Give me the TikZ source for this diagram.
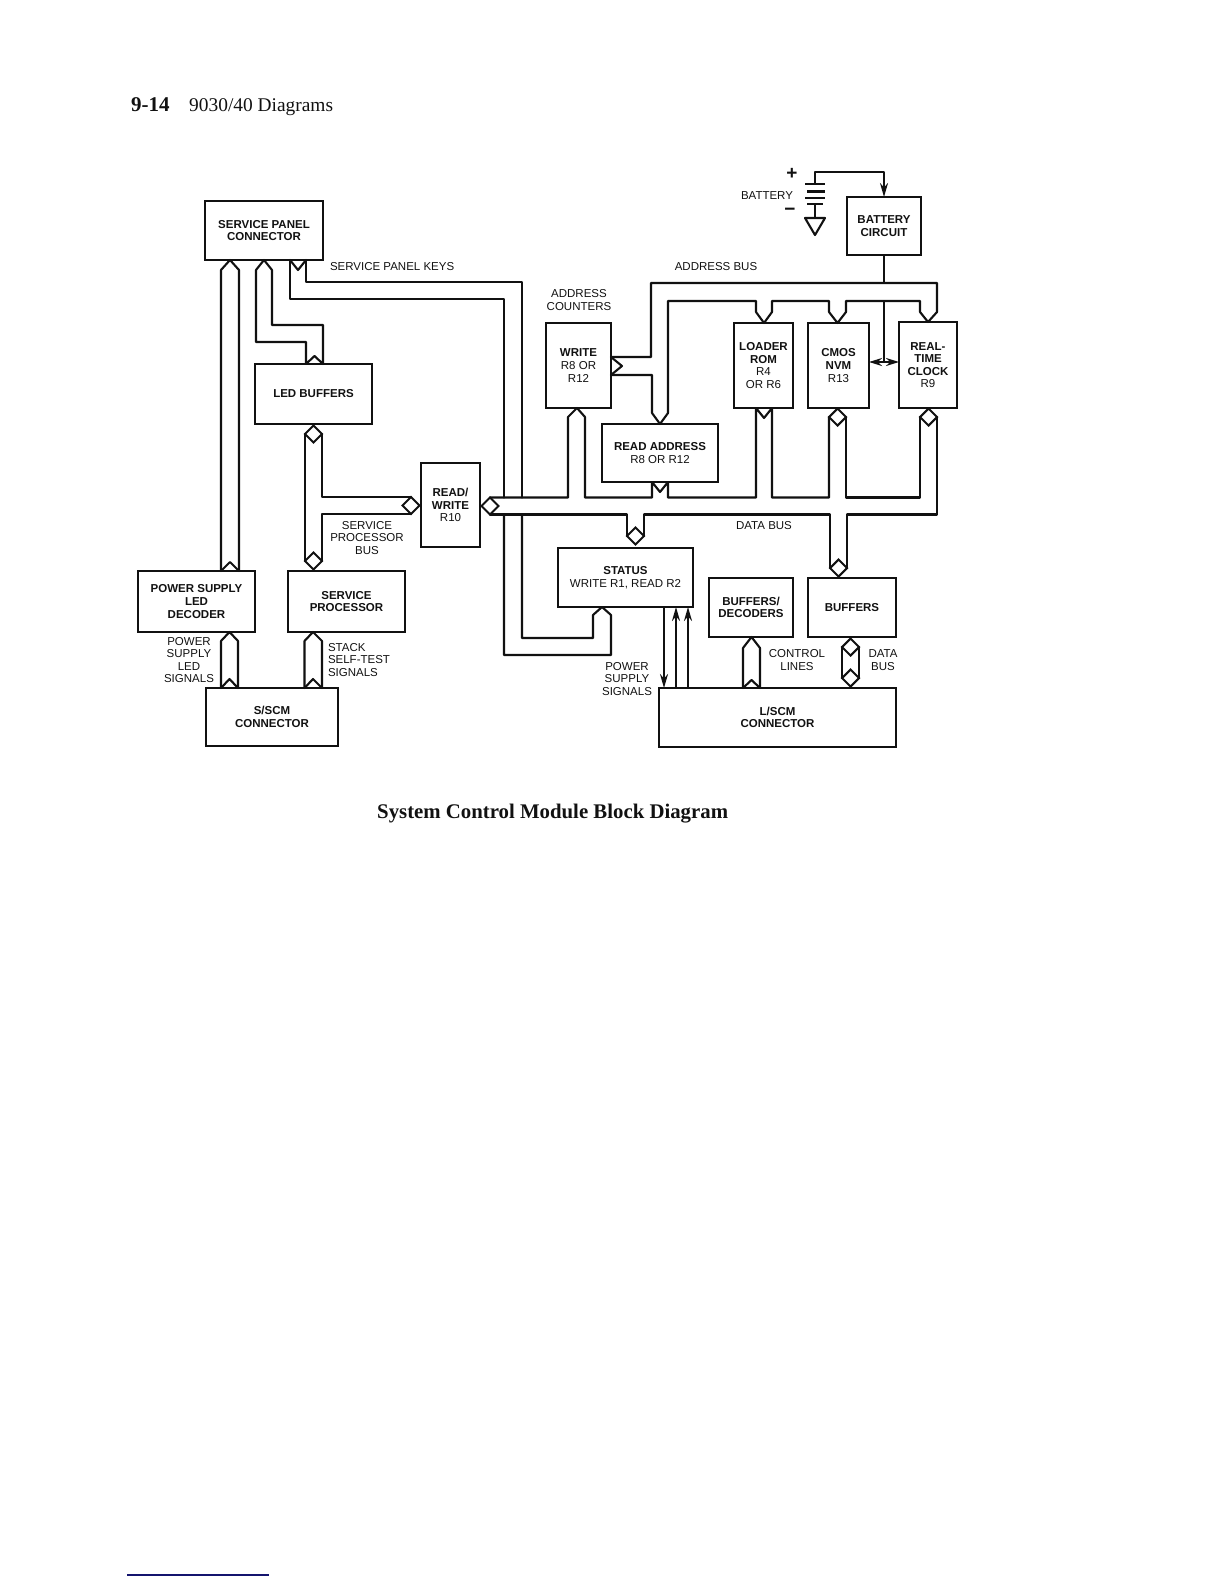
\documentclass[tikz,border=0pt]{standalone}
\usepackage{fontspec}
\setmainfont{Liberation Sans}
\newfontfamily\headfont{Liberation Serif}
\usetikzlibrary{arrows.meta,shapes.geometric}
\definecolor{ink}{HTML}{111111}
\definecolor{rulenavy}{HTML}{14146E}
\tikzset{
  blockbox/.style={draw=ink,line width=2.5pt,rectangle,inner sep=0pt,outer sep=0pt,align=center,text=ink,
    font=\fontsize{11.5}{12.6}\selectfont},
  lbl/.style={inner sep=0pt,outer sep=0pt,align=center,text=ink,font=\fontsize{11.5}{12.6}\selectfont},
  lbll/.style={lbl,align=left},
  pipe/.style={draw=ink,line width=2.1pt,line join=round,line cap=round},
  wire/.style={draw=ink,line width=2.1pt,line join=round},
  arrowwire/.style={wire,-{Stealth[length=14pt,width=8pt]}},
  twowire/.style={wire,{Stealth[length=13pt,width=8pt]}-{Stealth[length=13pt,width=8pt]}},
  dia/.style={draw=ink,line width=2.1pt,diamond,aspect=1,minimum width=17pt,minimum height=17pt,inner sep=0pt,outer sep=0pt},
}
\begin{document}
\begin{tikzpicture}[x=1pt,y=-1pt]
\useasboundingbox (0,0) rectangle (1224,1584);
% page text
\node[anchor=base west,inner sep=0pt,text=ink,font=\headfont\bfseries\fontsize{21}{24}\selectfont] (pg) at (131,112) {9-14};
\node[anchor=base west,inner sep=0pt,text=ink,font=\headfont\fontsize{19.4}{24}\selectfont] (ttl) at (189,112) {9030/40 Diagrams};
\node[anchor=base west,inner sep=0pt,text=ink,font=\headfont\bfseries\fontsize{20.8}{24}\selectfont] (cap) at (377,818) {System Control Module Block Diagram};
\coordinate (ruleL) at (127,1575);
\coordinate (ruleR) at (269,1575);
\draw[rulenavy,line width=1.2pt] (ruleL) -- (ruleR);
% blocks
\node[blockbox,minimum width=118pt,minimum height=59pt] (spc) at (264,230.5) {\textbf{SERVICE PANEL}\\\textbf{CONNECTOR}};
\node[blockbox,minimum width=117pt,minimum height=60pt] (led) at (313.5,394) {\textbf{LED BUFFERS}};
\node[blockbox,minimum width=117pt,minimum height=61pt] (psu) at (196.5,601.5) {\textbf{POWER SUPPLY}\\\textbf{LED}\\\textbf{DECODER}};
\node[blockbox,minimum width=117pt,minimum height=61pt] (sp) at (346.5,601.5) {\textbf{SERVICE}\\\textbf{PROCESSOR}};
\node[blockbox,minimum width=132pt,minimum height=58pt] (sscm) at (272,717) {\textbf{S/SCM}\\\textbf{CONNECTOR}};
\node[blockbox,minimum width=59pt,minimum height=84pt] (rw) at (450.5,505) {\textbf{READ/}\\\textbf{WRITE}\\R10};
\node[blockbox,minimum width=65pt,minimum height=85pt] (wr) at (578.5,365.5) {\textbf{WRITE}\\R8 OR\\R12};
\node[blockbox,minimum width=116pt,minimum height=58pt] (rd) at (660,453) {\textbf{READ ADDRESS}\\R8 OR R12};
\node[blockbox,minimum width=59pt,minimum height=85pt] (rom) at (763.5,365.5) {\textbf{LOADER}\\\textbf{ROM}\\R4\\OR R6};
\node[blockbox,minimum width=61pt,minimum height=85pt] (cmos) at (838.5,365.5) {\textbf{CMOS}\\\textbf{NVM}\\R13};
\node[blockbox,minimum width=58pt,minimum height=86pt] (rtc) at (928,365) {\textbf{REAL-}\\\textbf{TIME}\\\textbf{CLOCK}\\R9};
\node[blockbox,minimum width=74pt,minimum height=58pt] (batt) at (884,226) {\textbf{BATTERY}\\\textbf{CIRCUIT}};
\node[blockbox,minimum width=135pt,minimum height=59pt] (st) at (625.5,577.5) {\textbf{STATUS}\\WRITE R1, READ R2};
\node[blockbox,minimum width=84pt,minimum height=59pt] (bd) at (751,607.5) {\textbf{BUFFERS/}\\\textbf{DECODERS}};
\node[blockbox,minimum width=88pt,minimum height=59pt] (bf) at (852,607.5) {\textbf{BUFFERS}};
\node[blockbox,minimum width=237pt,minimum height=59pt] (lscm) at (777.5,717.5) {\textbf{L/SCM}\\\textbf{CONNECTOR}};
% diamonds
\node[dia] (dledb) at (313.5,434) {};
\node[dia] (dsp) at (313.5,561) {};
\node[dia] (drwl) at (411,505.5) {};
\node[dia] (drwr) at (490,506) {};
\node[dia] (dcmos) at (837.5,417) {};
\node[dia] (drtc) at (928.5,417) {};
\node[dia] (dst) at (635.5,536) {};
\node[dia] (dbf) at (838.5,568) {};
\node[dia] (dbft) at (850.5,647) {};
\node[dia] (dbfb) at (850.5,678) {};
% service panel <-> power supply decoder
\draw[pipe] (221,0 |- psu.north) -- (221,270) -- (230,0 |- spc.south) -- (239,270) -- (239,0 |- psu.north);
\draw[pipe] (221,0 |- psu.north) -- (230,562) -- (239,0 |- psu.north);
% service panel <-> LED buffers
\draw[pipe] (323,0 |- led.north) -- (323,325) -- (272,325) -- (272,270) -- (264,0 |- spc.south) -- (256,270) -- (256,342) -- (306,342) -- (306,0 |- led.north) -- (314.5,356) -- (323,0 |- led.north);
% service panel keys
\draw[pipe] (290,0 |- spc.south) -- (298,270) -- (306,0 |- spc.south);
\draw[pipe] (306,0 |- spc.south) -- (306,282) -- (522,282) -- (522,497.5);
\draw[pipe] (290,0 |- spc.south) -- (290,299) -- (504,299) -- (504,497.5);
\draw[pipe] (504,514.5) -- (504,655) -- (611,655) -- (611,615) -- (602,0 |- st.south) -- (593,615) -- (593,638) -- (522,638) -- (522,514.5);
% service processor bus
\draw[pipe] (dledb.west) -- (dsp.west);
\draw[pipe] (dledb.east) -- (322,497) -- (drwl.north);
\draw[pipe] (drwl.south) -- (322,514) -- (dsp.east);
% data bus
\draw[pipe] (drwr.north) -- (568,497.5) -- (568,417) -- (577,0 |- wr.south) -- (585,417) -- (585,497.5) -- (652,497.5) -- (652,0 |- rd.south) -- (660,492) -- (668,0 |- rd.south) -- (668,497.5) -- (756,497.5) -- (756,0 |- rom.south) -- (764,418) -- (772,0 |- rom.south) -- (772,497.5) -- (829,497.5) -- (dcmos.west);
\draw[pipe] (dcmos.east) -- (846,497.5) -- (920,497.5) -- (drtc.west);
\draw[pipe] (drtc.east) -- (937,514.5) -- (847,514.5) -- (dbf.east);
\draw[pipe] (dbf.west) -- (830,514.5) -- (644,514.5) -- (dst.east);
\draw[pipe] (dst.west) -- (627,514.5) -- (drwr.south);
% address bus
\draw[pipe] (wr.east |- 0,357) -- (651,357) -- (651,283) -- (937,283) -- (937,312) -- (928,0 |- rtc.north) -- (920,312) -- (920,301) -- (846,301) -- (846,312) -- (837.5,0 |- cmos.north) -- (829,312) -- (829,301) -- (772,301) -- (772,312) -- (764,0 |- rom.north) -- (756,312) -- (756,301) -- (668,301) -- (668,413) -- (660,0 |- rd.north) -- (652,413) -- (652,375) -- (wr.east |- 0,375);
\draw[pipe] (wr.east |- 0,357) -- (622,366) -- (wr.east |- 0,375);
% battery circuit
\coordinate (busA) at (batt.south |- 0,283);
\draw[wire] (batt.south) -- (busA);
\coordinate (busB) at (batt.south |- 0,301);
\coordinate (rtcj) at (batt.south |- 0,362);
\draw[wire] (busB) -- (rtcj);
\draw[twowire] (cmos.east |- rtcj) -- (rtc.west |- rtcj);
% battery symbol
\coordinate (bat1) at (815,184);
\coordinate (bat2) at (815,204);
\coordinate (gnd) at (815,218);
\draw[arrowwire] (bat1) -- (815,172) -- (batt.north |- 0,172) -- (batt.north);
\draw[ink,line width=2.4pt] (805,184) -- (825,184);
\draw[ink,line width=2.8pt] (807,191.5) -- (825,191.5);
\draw[ink,line width=2.4pt] (805,198) -- (825,198);
\draw[ink,line width=2.8pt] (807,204) -- (823,204);
\draw[wire] (bat2) -- (gnd);
\draw[wire] (805,218) -- (825,218) -- (815,235) -- cycle;
\node[inner sep=0pt,text=ink,font=\bfseries\fontsize{19}{20}\selectfont] (plus) at (792,174) {+};
\node[inner sep=0pt,text=ink,font=\bfseries\fontsize{19}{20}\selectfont] (minus) at (790,212) {\textminus};
% control and data pipes to L/SCM
\draw[pipe] (221,0 |- sscm.north) -- (221,641) -- (229.5,0 |- psu.south) -- (238,641) -- (238,0 |- sscm.north);
\draw[pipe] (221,0 |- sscm.north) -- (229.5,679) -- (238,0 |- sscm.north);
\draw[pipe] (304.5,0 |- sscm.north) -- (304.5,641) -- (313,0 |- sp.south) -- (322,641) -- (322,0 |- sscm.north);
\draw[pipe] (304.5,0 |- sscm.north) -- (313,679) -- (322,0 |- sscm.north);
\draw[pipe] (743,0 |- lscm.north) -- (743,648) -- (751.5,0 |- bd.south) -- (760,648) -- (760,0 |- lscm.north);
\draw[pipe] (743,0 |- lscm.north) -- (751.5,680) -- (760,0 |- lscm.north);
\draw[pipe] (dbft.west) -- (dbfb.west);
\draw[pipe] (dbft.east) -- (dbfb.east);
% status signals
\draw[arrowwire] (664,0 |- st.south) -- (664,0 |- lscm.north);
\draw[arrowwire] (676,0 |- lscm.north) -- (676,0 |- st.south);
\draw[arrowwire] (688,0 |- lscm.north) -- (688,0 |- st.south);
% labels
\node[lbl,anchor=west] (l1) at (330,267) {SERVICE PANEL KEYS};
\node[lbl] (l2) at (716,267) {ADDRESS BUS};
\node[lbl] (l3) at (579,300) {ADDRESS\\COUNTERS};
\node[lbl] (l4) at (767,196) {BATTERY};
\node[lbl] (l5) at (367,538) {SERVICE\\PROCESSOR\\BUS};
\node[lbl] (l6) at (764,526) {DATA BUS};
\node[lbl] (l7) at (189,660) {POWER\\SUPPLY\\LED\\SIGNALS};
\node[lbll,anchor=west] (l8) at (328,660) {STACK\\SELF-TEST\\SIGNALS};
\node[lbl] (l9) at (627,679) {POWER\\SUPPLY\\SIGNALS};
\node[lbl] (l10) at (797,660) {CONTROL\\LINES};
\node[lbl] (l11) at (883,660) {DATA\\BUS};
\end{tikzpicture}
\end{document}
